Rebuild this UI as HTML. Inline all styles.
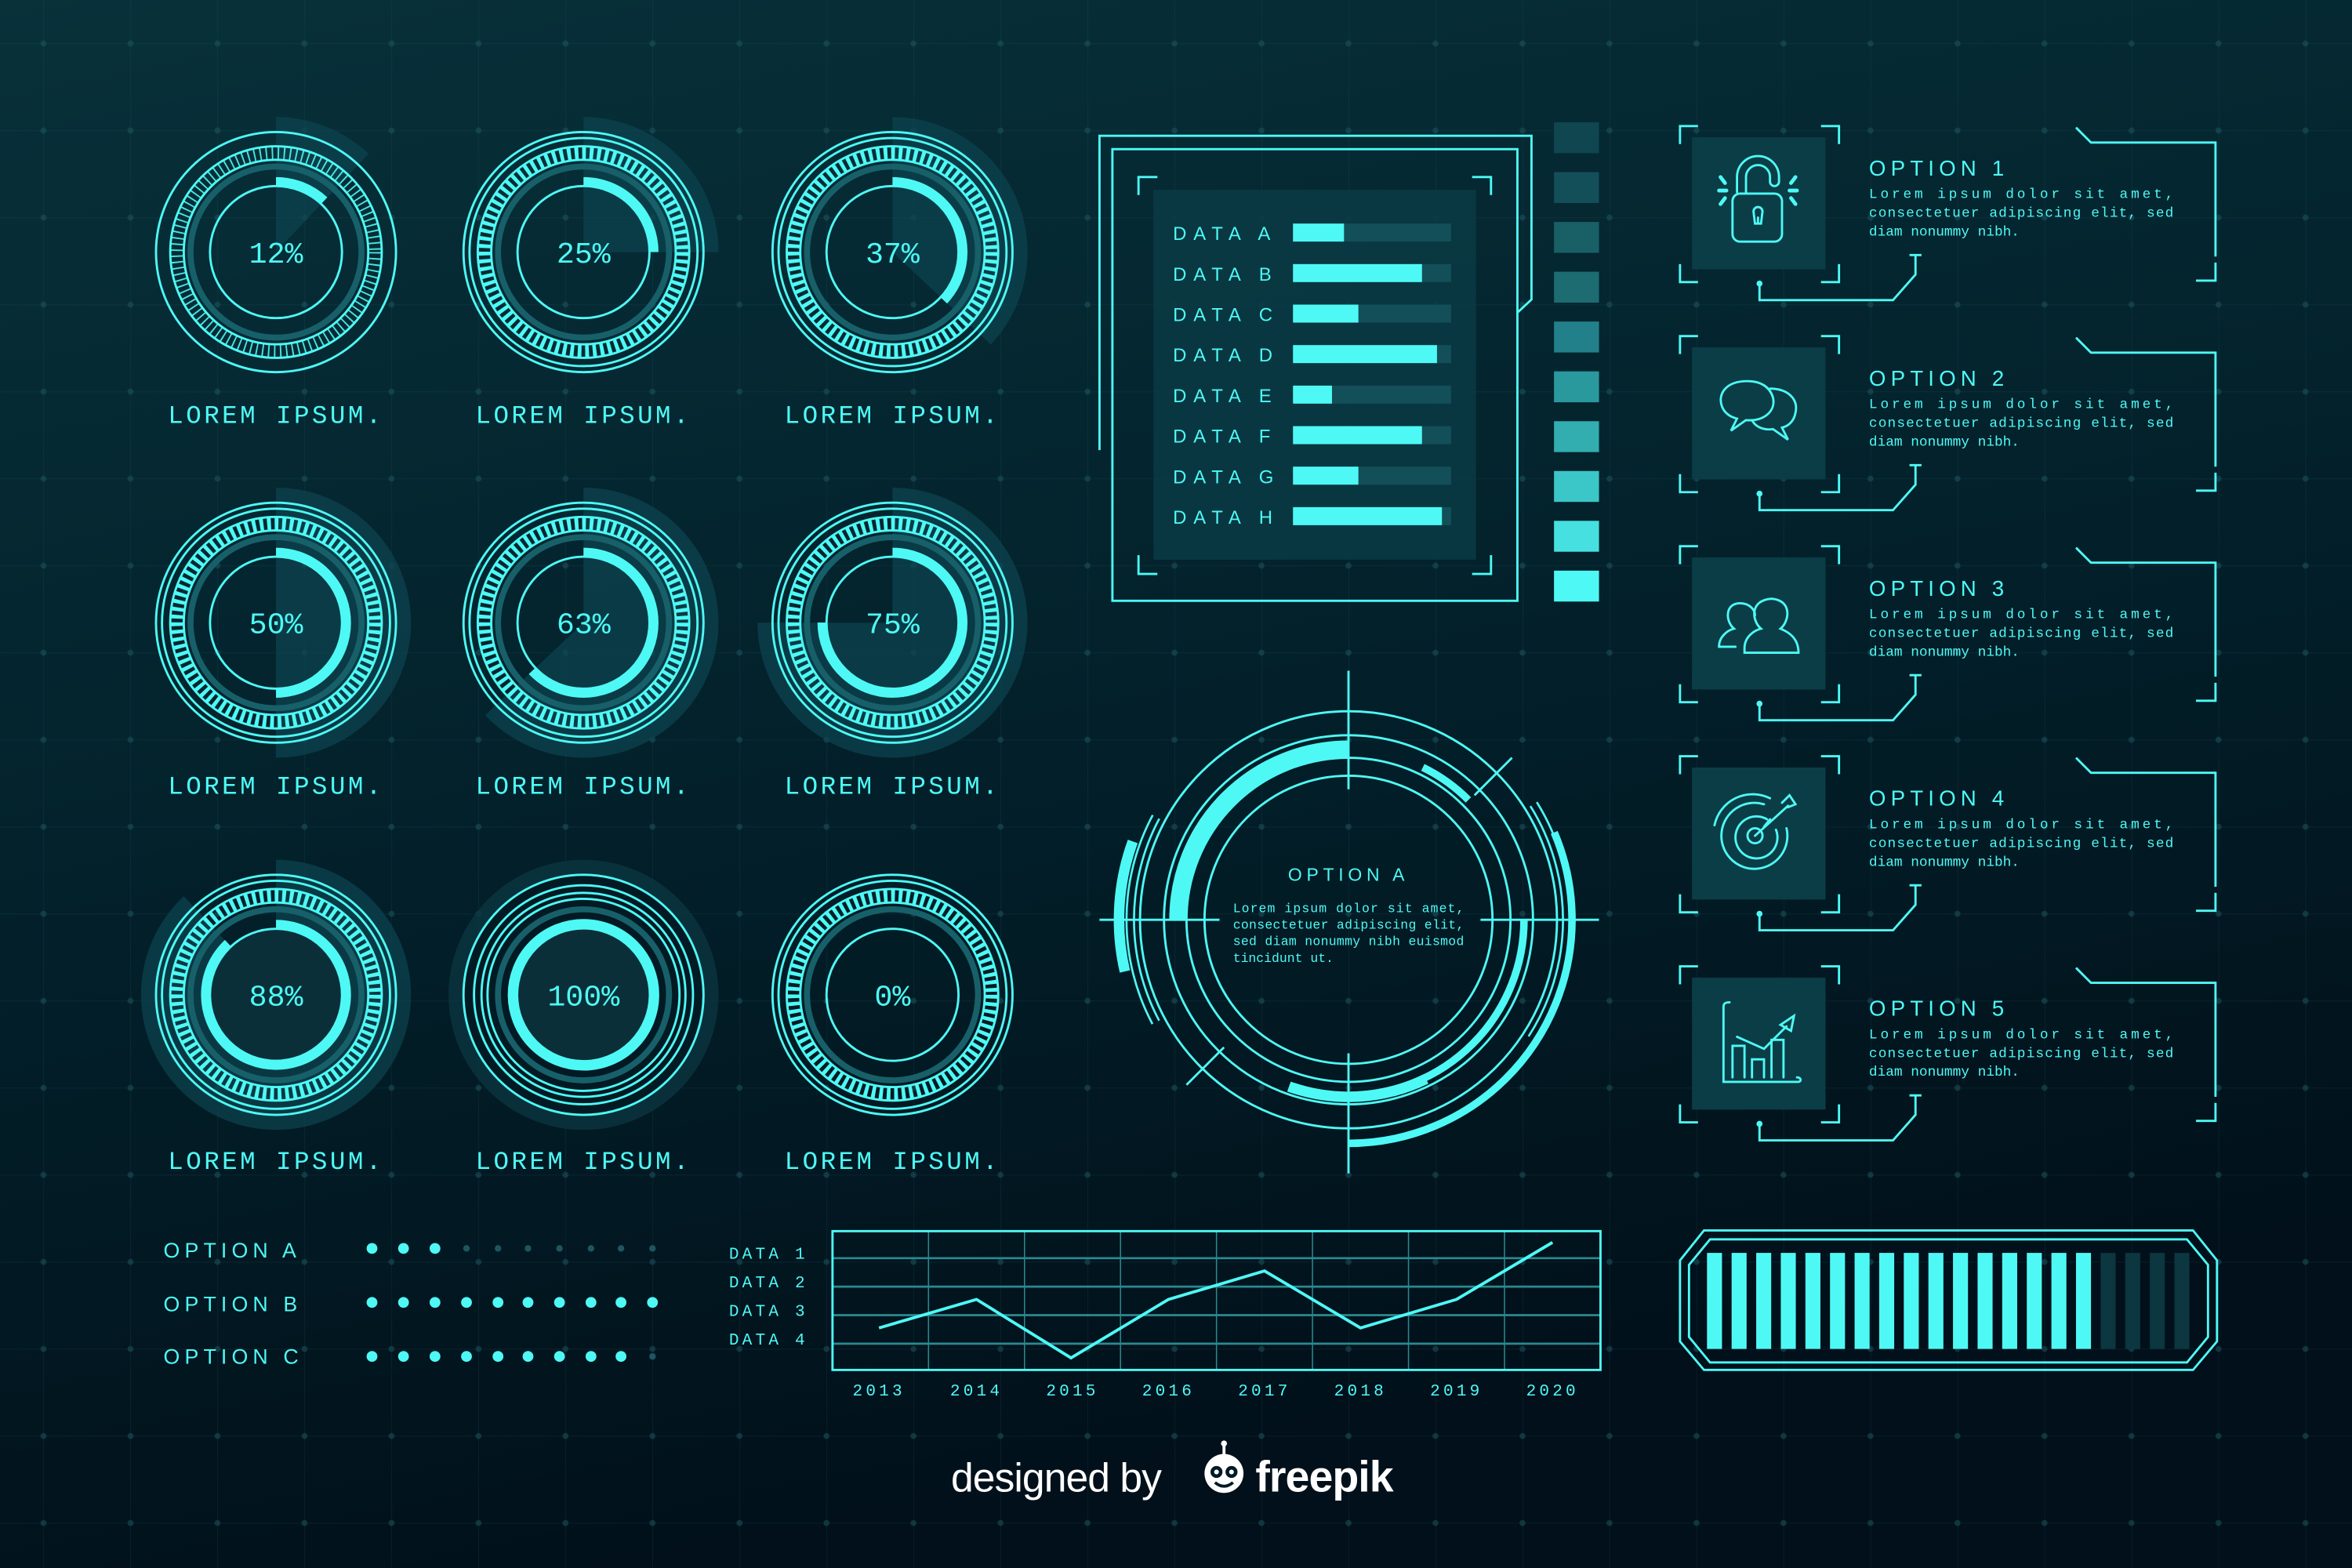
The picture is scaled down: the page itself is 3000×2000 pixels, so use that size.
<!DOCTYPE html>
<html><head><meta charset="utf-8">
<style>
html,body{margin:0;padding:0;background:#021822;}
svg{display:block}
.l{fill:none;stroke:#4ef9f5;stroke-width:1.5}
.t{fill:#4ef9f5;font-family:"Liberation Mono",monospace}
.s{fill:#4ef9f5;font-family:"Liberation Sans",sans-serif}
</style></head><body>
<svg width="3000" height="2000" viewBox="0 0 1568 1045" preserveAspectRatio="none" xmlns="http://www.w3.org/2000/svg">
<defs>
<linearGradient id="bg" x1="0" y1="0" x2="0.3" y2="1">
<stop offset="0" stop-color="#08313a"/><stop offset="0.5" stop-color="#03222c"/><stop offset="1" stop-color="#01101a"/>
</linearGradient>
<pattern id="grid" x="29" y="29" width="58" height="58" patternUnits="userSpaceOnUse">
<path d="M0 0H58M0 0V58" stroke="#2a6a74" stroke-width="0.6" opacity="0.25"/>
<circle cx="0" cy="0" r="2" fill="#1f5862" opacity="0.5"/>
<circle cx="58" cy="0" r="2" fill="#1f5862" opacity="0.5"/>
<circle cx="0" cy="58" r="2" fill="#1f5862" opacity="0.5"/>
<circle cx="58" cy="58" r="2" fill="#1f5862" opacity="0.5"/>
</pattern>
</defs>
<rect width="1568" height="1045" fill="url(#bg)"/>
<rect width="1568" height="1045" fill="url(#grid)"/>

<!-- GAUGES -->
<g id="gauges">
<g transform="translate(184,168)">
<circle r="45" fill="none" stroke="#0d4550" stroke-width="90" stroke-dasharray="34 400" transform="rotate(-90)" opacity=".7"/>
<circle r="80" class="l" stroke-width="1.2"/><circle r="57" fill="none" stroke="#17606a" stroke-width="4"/>
<circle r="61.5" class="l" stroke-width="1"/><circle r="70.5" class="l" stroke-width="1"/><circle r="66" fill="none" stroke="#4ef9f5" stroke-width="9" stroke-dasharray="1 3" opacity=".9"/>
<circle r="44" class="l" stroke-width="1.3"/>
<circle r="47" fill="none" stroke="#4ef9f5" stroke-width="6" stroke-dasharray="35.4 400" transform="rotate(-90)"/>
<text class="t" x="0" y="7" font-size="20" text-anchor="middle">12%</text></g>
<g transform="translate(389,168)">
<circle r="45" fill="none" stroke="#0d4550" stroke-width="90" stroke-dasharray="70.7 400" transform="rotate(-90)" opacity=".7"/>
<circle r="80" class="l" stroke-width="2"/><circle r="76" class="l" stroke-width="1.2"/><circle r="57" fill="none" stroke="#17606a" stroke-width="4"/>
<circle r="61.5" class="l" stroke-width="1.4"/><circle r="70.5" class="l" stroke-width="1.4"/><circle r="66" fill="none" stroke="#4ef9f5" stroke-width="9" stroke-dasharray="2.5 2.5"/>
<circle r="44" class="l" stroke-width="1.5"/>
<circle r="47" fill="none" stroke="#4ef9f5" stroke-width="6" stroke-dasharray="73.8 400" transform="rotate(-90)"/>
<text class="t" x="0" y="7" font-size="20" text-anchor="middle">25%</text></g>
<g transform="translate(595,168)">
<circle r="45" fill="none" stroke="#0d4550" stroke-width="90" stroke-dasharray="104.6 400" transform="rotate(-90)" opacity=".7"/>
<circle r="80" class="l" stroke-width="2"/><circle r="76" class="l" stroke-width="1.2"/><circle r="57" fill="none" stroke="#17606a" stroke-width="4"/>
<circle r="61.5" class="l" stroke-width="1.4"/><circle r="70.5" class="l" stroke-width="1.4"/><circle r="66" fill="none" stroke="#4ef9f5" stroke-width="9" stroke-dasharray="2.5 2.5"/>
<circle r="44" class="l" stroke-width="1.5"/>
<circle r="47" fill="none" stroke="#4ef9f5" stroke-width="6" stroke-dasharray="109.3 400" transform="rotate(-90)"/>
<text class="t" x="0" y="7" font-size="20" text-anchor="middle">37%</text></g>
<g transform="translate(184,415)">
<circle r="45" fill="none" stroke="#0d4550" stroke-width="90" stroke-dasharray="141.4 400" transform="rotate(-90)" opacity=".7"/>
<circle r="80" class="l" stroke-width="2"/><circle r="76" class="l" stroke-width="1.2"/><circle r="57" fill="none" stroke="#17606a" stroke-width="4"/>
<circle r="61.5" class="l" stroke-width="1.4"/><circle r="70.5" class="l" stroke-width="1.4"/><circle r="66" fill="none" stroke="#4ef9f5" stroke-width="9" stroke-dasharray="2.5 2.5"/>
<circle r="44" class="l" stroke-width="1.5"/>
<circle r="47" fill="none" stroke="#4ef9f5" stroke-width="6" stroke-dasharray="147.6 400" transform="rotate(-90)"/>
<text class="t" x="0" y="7" font-size="20" text-anchor="middle">50%</text></g>
<g transform="translate(389,415)">
<circle r="45" fill="none" stroke="#0d4550" stroke-width="90" stroke-dasharray="178 400" transform="rotate(-90)" opacity=".7"/>
<circle r="80" class="l" stroke-width="2"/><circle r="76" class="l" stroke-width="1.2"/><circle r="57" fill="none" stroke="#17606a" stroke-width="4"/>
<circle r="61.5" class="l" stroke-width="1.4"/><circle r="70.5" class="l" stroke-width="1.4"/><circle r="66" fill="none" stroke="#4ef9f5" stroke-width="9" stroke-dasharray="2.5 2.5"/>
<circle r="44" class="l" stroke-width="1.5"/>
<circle r="47" fill="none" stroke="#4ef9f5" stroke-width="6" stroke-dasharray="186 400" transform="rotate(-90)"/>
<text class="t" x="0" y="7" font-size="20" text-anchor="middle">63%</text></g>
<g transform="translate(595,415)">
<circle r="45" fill="none" stroke="#0d4550" stroke-width="90" stroke-dasharray="212 400" transform="rotate(-90)" opacity=".7"/>
<circle r="80" class="l" stroke-width="2"/><circle r="76" class="l" stroke-width="1.2"/><circle r="57" fill="none" stroke="#17606a" stroke-width="4"/>
<circle r="61.5" class="l" stroke-width="1.4"/><circle r="70.5" class="l" stroke-width="1.4"/><circle r="66" fill="none" stroke="#4ef9f5" stroke-width="9" stroke-dasharray="2.5 2.5"/>
<circle r="44" class="l" stroke-width="1.5"/>
<circle r="47" fill="none" stroke="#4ef9f5" stroke-width="6" stroke-dasharray="221.5 400" transform="rotate(-90)"/>
<text class="t" x="0" y="7" font-size="20" text-anchor="middle">75%</text></g>
<g transform="translate(184,663)">
<circle r="45" fill="none" stroke="#0d4550" stroke-width="90" stroke-dasharray="248.8 400" transform="rotate(-90)" opacity=".7"/>
<circle r="44" fill="#0b2f39"/>
<circle r="80" class="l" stroke-width="2"/><circle r="76" class="l" stroke-width="1.2"/><circle r="57" fill="none" stroke="#17606a" stroke-width="4"/>
<circle r="61.5" class="l" stroke-width="1.4"/><circle r="70.5" class="l" stroke-width="1.4"/><circle r="66" fill="none" stroke="#4ef9f5" stroke-width="9" stroke-dasharray="2.5 2.5"/>
<circle r="44" class="l" stroke-width="1.5"/>
<circle r="47" fill="none" stroke="#4ef9f5" stroke-width="6" stroke-dasharray="260 400" transform="rotate(-90)"/>
<text class="t" x="0" y="7" font-size="20" text-anchor="middle">88%</text></g>
<g transform="translate(389,663)">
<circle r="90" fill="#0b3640" opacity=".8"/>
<circle r="80" fill="#021a24"/>
<circle r="44" fill="#0b2f39"/>
<circle r="80" class="l" stroke-width="2"/><circle r="73" class="l" stroke-width="2"/><circle r="68" class="l" stroke-width="2"/><circle r="64" class="l" stroke-width="2"/>
<circle r="57" fill="none" stroke="#17606a" stroke-width="4"/>
<circle r="47" fill="none" stroke="#4ef9f5" stroke-width="7"/>
<text class="t" x="0" y="7" font-size="20" text-anchor="middle">100%</text></g>
<g transform="translate(595,663)">
<circle r="80" class="l" stroke-width="2"/><circle r="76" class="l" stroke-width="1.2"/><circle r="57" fill="none" stroke="#17606a" stroke-width="4"/>
<circle r="61.5" class="l" stroke-width="1.4"/><circle r="70.5" class="l" stroke-width="1.4"/><circle r="66" fill="none" stroke="#4ef9f5" stroke-width="9" stroke-dasharray="2.5 2.5"/>
<circle r="44" class="l" stroke-width="1.5"/>
<text class="t" x="0" y="7" font-size="20" text-anchor="middle">0%</text></g>
</g>
<g class="t" font-size="17" letter-spacing="1.8" text-anchor="middle">
<text x="184" y="282">LOREM IPSUM.</text><text x="389" y="282">LOREM IPSUM.</text><text x="595" y="282">LOREM IPSUM.</text>
<text x="184" y="529">LOREM IPSUM.</text><text x="389" y="529">LOREM IPSUM.</text><text x="595" y="529">LOREM IPSUM.</text>
<text x="184" y="779">LOREM IPSUM.</text><text x="389" y="779">LOREM IPSUM.</text><text x="595" y="779">LOREM IPSUM.</text>
</g>

<!-- DATA PANEL -->
<path d="M733 300V90.5H1021V199.6L1012 208" class="l" stroke-width="2.5"/>
<rect x="741.6" y="99.4" width="270" height="301" class="l" stroke-width="2.5"/>
<rect x="769" y="126.5" width="215" height="246.5" fill="#0a3a44" opacity=".9"/>
<path d="M759 130V118H771.6M981.4 118H994V130M759 370V382.5H771.6M981.4 382.5H994V370" class="l" stroke-width="2.5"/>
<g class="s" font-size="12.5" letter-spacing="4.6">
<text x="782" y="160">DATA A</text><text x="782" y="187">DATA B</text><text x="782" y="214">DATA C</text><text x="782" y="241">DATA D</text>
<text x="782" y="268">DATA E</text><text x="782" y="295">DATA F</text><text x="782" y="322">DATA G</text><text x="782" y="349">DATA H</text>
</g>
<g fill="#134f58">
<rect x="862" y="149" width="105.4" height="12"/><rect x="862" y="176" width="105.4" height="12"/><rect x="862" y="203" width="105.4" height="12"/><rect x="862" y="230" width="105.4" height="12"/>
<rect x="862" y="257" width="105.4" height="12"/><rect x="862" y="284" width="105.4" height="12"/><rect x="862" y="311" width="105.4" height="12"/><rect x="862" y="338" width="105.4" height="12"/>
</g>
<g fill="#4ef9f5">
<rect x="862" y="149" width="34" height="12"/><rect x="862" y="176" width="86" height="12"/><rect x="862" y="203" width="43.6" height="12"/><rect x="862" y="230" width="96" height="12"/>
<rect x="862" y="257" width="26" height="12"/><rect x="862" y="284" width="86" height="12"/><rect x="862" y="311" width="43.6" height="12"/><rect x="862" y="338" width="99.3" height="12"/>
</g>
<g>
<rect x="1036" y="81.5" width="30" height="20.6" fill="#0f4650"/>
<rect x="1036" y="114.7" width="30" height="20.6" fill="#134f59"/>
<rect x="1036" y="147.9" width="30" height="20.6" fill="#186065"/>
<rect x="1036" y="181.1" width="30" height="20.6" fill="#1c6c72"/>
<rect x="1036" y="214.3" width="30" height="20.6" fill="#22808a"/>
<rect x="1036" y="247.5" width="30" height="20.6" fill="#2a999e"/>
<rect x="1036" y="280.7" width="30" height="20.6" fill="#32adb0"/>
<rect x="1036" y="313.9" width="30" height="20.6" fill="#3bc6c8"/>
<rect x="1036" y="347.1" width="30" height="20.6" fill="#45e0df"/>
<rect x="1036" y="380.3" width="30" height="20.6" fill="#4ef9f5"/>
</g>

<!-- CENTER CIRCLE -->
<g transform="translate(899,613)">
<circle r="96" class="l" stroke-width="1.4"/>
<circle r="108" class="l" stroke-width="1.4"/>
<circle r="123" class="l" stroke-width="1.4"/>
<circle r="139" class="l" stroke-width="2"/>
<circle r="114" fill="none" stroke="#4ef9f5" stroke-width="11" stroke-dasharray="179 2000" transform="rotate(180)"/>
<circle r="117" fill="none" stroke="#4ef9f5" stroke-width="5" stroke-dasharray="184 2000"/>
<circle r="118" fill="none" stroke="#4ef9f5" stroke-width="7" stroke-dasharray="94 2000" transform="rotate(64)"/>
<circle r="113" fill="none" stroke="#4ef9f5" stroke-width="5" stroke-dasharray="37.5 2000" transform="rotate(-64)"/>
<circle r="149" fill="none" stroke="#4ef9f5" stroke-width="5" stroke-dasharray="294 2000" transform="rotate(-23)"/>
<circle r="153" fill="none" stroke="#4ef9f5" stroke-width="7" stroke-dasharray="88 2000" transform="rotate(167)"/>
<circle r="143" fill="none" stroke="#4ef9f5" stroke-width="1.4" stroke-dasharray="140 2000" transform="rotate(152)"/>
<circle r="148" fill="none" stroke="#4ef9f5" stroke-width="1.4" stroke-dasharray="145 2000" transform="rotate(152)"/>
<circle r="143" fill="none" stroke="#4ef9f5" stroke-width="1.4" stroke-dasharray="162 2000" transform="rotate(-32)"/>
<circle r="148" fill="none" stroke="#4ef9f5" stroke-width="1.4" stroke-dasharray="168 2000" transform="rotate(-32)"/>
<path d="M0 -166V-87M0 89V169M-166 0H-86M88 0H167M84 -83L109 -108M-108 110L-83 85" class="l" stroke-width="1.5"/>
</g>
<text class="s" x="899" y="587" font-size="12" letter-spacing="3" text-anchor="middle">OPTION A</text>
<g class="t" font-size="8.6">
<text x="822" y="608" textLength="154">Lorem ipsum dolor sit amet,</text>
<text x="822" y="619" textLength="154">consectetuer adipiscing elit,</text>
<text x="822" y="630" textLength="154">sed diam nonummy nibh euismod</text>
<text x="822" y="641">tincidunt ut.</text>
</g>

<!-- OPTIONS -->
<g id="opts">
<g transform="translate(0,0)">
<rect x="1128" y="91.5" width="89" height="88" fill="#0b3d46"/>
<path d="M1120 96V84H1132M1214 84H1226V96M1120 176V188H1132M1214 188H1226V176" class="l" stroke-width="2.5"/>
<path d="M1384 85L1394 95H1477V171M1464 187H1477V175" class="l" stroke-width="1.5"/>
<path d="M1173 190V200H1262L1277 183V170M1273 170H1281" class="l" stroke-width="1.5"/><circle cx="1173" cy="189" r="2" fill="#4ef9f5"/>
<text class="s" x="1246" y="117" font-size="14.5" letter-spacing="3.2">OPTION 1</text>
</g>
<g transform="translate(0,140)">
<rect x="1128" y="91.5" width="89" height="88" fill="#0b3d46"/>
<path d="M1120 96V84H1132M1214 84H1226V96M1120 176V188H1132M1214 188H1226V176" class="l" stroke-width="2.5"/>
<path d="M1384 85L1394 95H1477V171M1464 187H1477V175" class="l" stroke-width="1.5"/>
<path d="M1173 190V200H1262L1277 183V170M1273 170H1281" class="l" stroke-width="1.5"/><circle cx="1173" cy="189" r="2" fill="#4ef9f5"/>
<text class="s" x="1246" y="117" font-size="14.5" letter-spacing="3.2">OPTION 2</text>
</g>
<g transform="translate(0,280)">
<rect x="1128" y="91.5" width="89" height="88" fill="#0b3d46"/>
<path d="M1120 96V84H1132M1214 84H1226V96M1120 176V188H1132M1214 188H1226V176" class="l" stroke-width="2.5"/>
<path d="M1384 85L1394 95H1477V171M1464 187H1477V175" class="l" stroke-width="1.5"/>
<path d="M1173 190V200H1262L1277 183V170M1273 170H1281" class="l" stroke-width="1.5"/><circle cx="1173" cy="189" r="2" fill="#4ef9f5"/>
<text class="s" x="1246" y="117" font-size="14.5" letter-spacing="3.2">OPTION 3</text>
</g>
<g transform="translate(0,420)">
<rect x="1128" y="91.5" width="89" height="88" fill="#0b3d46"/>
<path d="M1120 96V84H1132M1214 84H1226V96M1120 176V188H1132M1214 188H1226V176" class="l" stroke-width="2.5"/>
<path d="M1384 85L1394 95H1477V171M1464 187H1477V175" class="l" stroke-width="1.5"/>
<path d="M1173 190V200H1262L1277 183V170M1273 170H1281" class="l" stroke-width="1.5"/><circle cx="1173" cy="189" r="2" fill="#4ef9f5"/>
<text class="s" x="1246" y="117" font-size="14.5" letter-spacing="3.2">OPTION 4</text>
</g>
<g transform="translate(0,560)">
<rect x="1128" y="91.5" width="89" height="88" fill="#0b3d46"/>
<path d="M1120 96V84H1132M1214 84H1226V96M1120 176V188H1132M1214 188H1226V176" class="l" stroke-width="2.5"/>
<path d="M1384 85L1394 95H1477V171M1464 187H1477V175" class="l" stroke-width="1.5"/>
<path d="M1173 190V200H1262L1277 183V170M1273 170H1281" class="l" stroke-width="1.5"/><circle cx="1173" cy="189" r="2" fill="#4ef9f5"/>
<text class="s" x="1246" y="117" font-size="14.5" letter-spacing="3.2">OPTION 5</text>
</g>
</g>
<g class="t" font-size="9.3">
<text x="1246" y="132" textLength="203">Lorem ipsum dolor sit amet,</text><text x="1246" y="144.5" textLength="203">consectetuer adipiscing elit, sed</text><text x="1246" y="157">diam nonummy nibh.</text>
<text x="1246" y="272" textLength="203">Lorem ipsum dolor sit amet,</text><text x="1246" y="284.5" textLength="203">consectetuer adipiscing elit, sed</text><text x="1246" y="297">diam nonummy nibh.</text>
<text x="1246" y="412" textLength="203">Lorem ipsum dolor sit amet,</text><text x="1246" y="424.5" textLength="203">consectetuer adipiscing elit, sed</text><text x="1246" y="437">diam nonummy nibh.</text>
<text x="1246" y="552" textLength="203">Lorem ipsum dolor sit amet,</text><text x="1246" y="564.5" textLength="203">consectetuer adipiscing elit, sed</text><text x="1246" y="577">diam nonummy nibh.</text>
<text x="1246" y="692" textLength="203">Lorem ipsum dolor sit amet,</text><text x="1246" y="704.5" textLength="203">consectetuer adipiscing elit, sed</text><text x="1246" y="717">diam nonummy nibh.</text>
</g>
<g class="l" stroke-width="1.5" stroke-linecap="round">
<path d="M1158 128V118A14 14 0 0 1 1186 118V121A3 3 0 0 1 1180 121V118A8 8 0 0 0 1164 118V128"/>
<rect x="1155" y="129" width="33" height="32" rx="5"/>
<path d="M1172 149V145M1169 141A3 3 0 1 1 1175 141L1174 149H1170Z"/>
<path d="M1147 118L1150 122M1146 127H1151M1147 136L1150 132M1197 118L1194 122M1198 127H1193M1197 136L1194 132" stroke-width="2.5"/>
<path d="M1165 254C1150 254 1145 263 1148 271C1150 276 1154 278 1158 279L1154 287L1164 280C1176 281 1184 274 1182 265C1180 258 1174 254 1165 254Z"/>
<path d="M1180 259C1192 259 1199 266 1197 275C1196 281 1192 284 1188 285L1192 293L1182 286C1175 287 1170 284 1168 280"/>
<path d="M1157 431H1146C1146 424 1152 420 1156 419C1150 414 1150 402 1160 402C1167 402 1170 407 1170 410"/>
<path d="M1163 435V432C1163 424 1170 420 1174 419C1168 414 1166 400 1181 399C1195 400 1193 414 1187 419C1192 421 1199 425 1199 435Z"/>
<circle cx="1170" cy="557" r="5"/>
<path d="M1178 546A14 14 0 1 0 1184 553"/>
<path d="M1176 536A22 22 0 1 0 1191 552"/>
<path d="M1180 532A26 26 0 0 0 1143 550"/>
<path d="M1170 557L1192 537M1188 535L1193 530L1197 536L1192 538M1176 551L1180 546"/>
<path d="M1153 668C1150 668 1149 669 1149 671V721H1199C1201 721 1201 718 1198 718"/>
<path d="M1155 718V697H1163V718M1168 718V706H1176V718M1181 718V693H1189V718"/>
<path d="M1158 691L1176 699L1191 684M1187 683L1196 677L1194 687Z"/>
</g>

<!-- BOTTOM OPTIONS -->
<g class="s" font-size="14" letter-spacing="3.2">
<text x="109" y="838">OPTION A</text><text x="109" y="874">OPTION B</text><text x="109" y="909">OPTION C</text>
</g>
<g fill="#4ef9f5">
<circle cx="248" cy="832" r="3.6"/><circle cx="269" cy="832" r="3.6"/><circle cx="290" cy="832" r="3.6"/>
<circle cx="248" cy="868" r="3.6"/><circle cx="269" cy="868" r="3.6"/><circle cx="290" cy="868" r="3.6"/><circle cx="311" cy="868" r="3.6"/><circle cx="332" cy="868" r="3.6"/><circle cx="352" cy="868" r="3.6"/><circle cx="373" cy="868" r="3.6"/><circle cx="394" cy="868" r="3.6"/><circle cx="414" cy="868" r="3.6"/><circle cx="435" cy="868" r="3.6"/>
<circle cx="248" cy="904" r="3.6"/><circle cx="269" cy="904" r="3.6"/><circle cx="290" cy="904" r="3.6"/><circle cx="311" cy="904" r="3.6"/><circle cx="332" cy="904" r="3.6"/><circle cx="352" cy="904" r="3.6"/><circle cx="373" cy="904" r="3.6"/><circle cx="394" cy="904" r="3.6"/><circle cx="414" cy="904" r="3.6"/>
</g>
<g fill="#1d5560">
<circle cx="311" cy="832" r="2.2"/><circle cx="332" cy="832" r="2.2"/><circle cx="352" cy="832" r="2.2"/><circle cx="373" cy="832" r="2.2"/><circle cx="394" cy="832" r="2.2"/><circle cx="414" cy="832" r="2.2"/><circle cx="435" cy="832" r="2.2"/>
<circle cx="435" cy="904" r="2.2"/>
</g>

<!-- LINE CHART -->
<g stroke="#2a8a90" stroke-width="1" fill="none">
<path d="M555 838.5H1067M555 857.5H1067M555 876.5H1067M555 895.5H1067" stroke-width="1.4"/>
<path d="M619 820V913M683 820V913M747 820V913M811 820V913M875 820V913M939 820V913M1003 820V913" stroke-width="0.8"/>
</g>
<rect x="555" y="820.5" width="512" height="92.5" class="l" stroke-width="1.3"/>
<polyline points="586,885 651,866 714,905 779,866 843,847 907,885 971,866 1035,828" fill="none" stroke="#4ef9f5" stroke-width="2"/>
<g class="t" font-size="11" letter-spacing="2.2">
<text x="486" y="839">DATA 1</text><text x="486" y="858">DATA 2</text><text x="486" y="877">DATA 3</text><text x="486" y="896">DATA 4</text>
</g>
<g class="t" font-size="11" letter-spacing="2.2" text-anchor="middle">
<text x="586" y="930">2013</text><text x="651" y="930">2014</text><text x="715" y="930">2015</text><text x="779" y="930">2016</text><text x="843" y="930">2017</text><text x="907" y="930">2018</text><text x="971" y="930">2019</text><text x="1035" y="930">2020</text>
</g>

<!-- PROGRESS BAR -->
<path d="M1136 820H1462L1478 840V894L1462 913H1136L1120 894V840Z" class="l" stroke-width="1.5"/>
<path d="M1140 826H1458L1472 843V891L1458 908H1140L1126 891V843Z" class="l" stroke-width="1.5"/>
<g fill="#4ef9f5">
<rect x="1138" y="835" width="10" height="64"/><rect x="1154.4" y="835" width="10" height="64"/><rect x="1170.8" y="835" width="10" height="64"/><rect x="1187.2" y="835" width="10" height="64"/>
<rect x="1203.6" y="835" width="10" height="64"/><rect x="1220" y="835" width="10" height="64"/><rect x="1236.4" y="835" width="10" height="64"/><rect x="1252.8" y="835" width="10" height="64"/>
<rect x="1269.2" y="835" width="10" height="64"/><rect x="1285.6" y="835" width="10" height="64"/><rect x="1302" y="835" width="10" height="64"/><rect x="1318.4" y="835" width="10" height="64"/>
<rect x="1334.8" y="835" width="10" height="64"/><rect x="1351.2" y="835" width="10" height="64"/><rect x="1367.6" y="835" width="10" height="64"/><rect x="1384" y="835" width="10" height="64"/>
</g>
<g fill="#0c3640">
<rect x="1400.4" y="835" width="10" height="64"/><rect x="1416.8" y="835" width="10" height="64"/><rect x="1433.2" y="835" width="10" height="64"/><rect x="1449.6" y="835" width="10" height="64"/>
</g>

<!-- FOOTER -->
<text x="634" y="994" font-family="Liberation Sans, sans-serif" font-size="27" fill="#ffffff" letter-spacing="-0.5">designed by</text>
<g transform="translate(816,982)" fill="#ffffff">
<circle r="13"/><circle cx="-5" cy="-1" r="4" fill="#021b24"/><circle cx="5" cy="-1" r="4" fill="#021b24"/>
<circle cx="-5" cy="-1" r="1.6"/><circle cx="5" cy="-1" r="1.6"/>
<path d="M-6 6Q0 11 6 6" stroke="#021b24" stroke-width="2" fill="none"/>
<rect x="-1" y="-19" width="2" height="6"/><circle cx="0" cy="-20" r="2"/>
</g>
<text x="837" y="994" font-family="Liberation Sans, sans-serif" font-size="29" font-weight="bold" fill="#ffffff" letter-spacing="-0.5">freepik</text>
</svg>
</body></html>
